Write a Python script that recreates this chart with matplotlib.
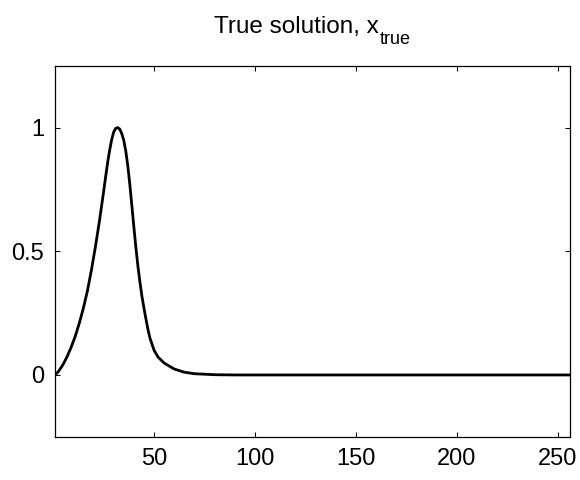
import matplotlib.pyplot as plt

plt.rcParams['font.family'] = ['Liberation Sans', 'DejaVu Sans']

# True solution
x_idx = [1, 2, 3, 5, 7, 9, 11, 13, 15, 17, 19, 21, 23, 25, 26, 27, 28, 29, 30,
         31, 32, 33, 34, 35, 36, 37, 38, 39, 40, 41, 42, 43, 44, 45, 46, 47,
         48, 50, 52, 55, 60, 65, 70, 80, 90, 256]
x_true = [0.0, 0.008, 0.018, 0.043, 0.075, 0.113, 0.157, 0.21, 0.27, 0.34,
          0.425, 0.52, 0.625, 0.74, 0.80, 0.858, 0.908, 0.951, 0.982,
          0.997, 1.0, 0.994, 0.976, 0.948, 0.905, 0.845, 0.77, 0.685, 0.598,
          0.515, 0.44, 0.375, 0.318, 0.27, 0.225, 0.183,
          0.148, 0.1, 0.072, 0.048, 0.024, 0.011, 0.005, 0.001, 0.0, 0.0]

xticks = [50, 100, 150, 200, 250]
yticks = [0, 0.5, 1]
yticklabels = ['0', '0.5', '1']

fig = plt.figure(figsize=(5.8, 4.8), dpi=100)
ax = fig.add_axes([0.095, 0.09, 0.888, 0.773])
ax.plot(x_idx, x_true, color='black', linewidth=2.0)
ax.set_xlim(1, 256)
ax.set_ylim(-0.25, 1.25)
ax.set_xticks(xticks)
ax.set_yticks(yticks)
ax.set_yticklabels(yticklabels)
ax.tick_params(direction='in', top=True, right=True, labelsize=17,
               length=3.5, width=0.75, pad=8)
for s in ax.spines.values():
    s.set_linewidth(0.9)

# title with a MATLAB-like subscript
fig.canvas.draw()
r = fig.canvas.get_renderer()
t1 = fig.text(0, 1 - 33.3 / 480, 'True solution, x', fontsize=17.5,
              va='baseline', ha='left')
t2 = fig.text(0, 1 - 44.3 / 480, 'true', fontsize=13,
              va='baseline', ha='left')
w1 = t1.get_window_extent(r).width
w2 = t2.get_window_extent(r).width
cx = (0.095 + 0.888 / 2) * 580
start = cx - (w1 + w2 + 1) / 2
t1.set_x(start / 580)
t2.set_x((start + w1 + 1) / 580)

fig.savefig('out.png', dpi=100)
